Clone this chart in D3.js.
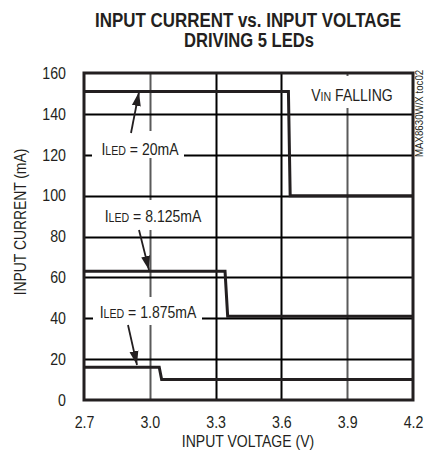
<!DOCTYPE html>
<html>
<head>
<meta charset="utf-8">
<script src="https://cdn.jsdelivr.net/npm/d3@7"></script>
<style>
  body { margin: 0; background: #fff; }
  text { font-family: "Liberation Sans", Arial, sans-serif; fill: #231f20; }
</style>
</head>
<body>
<div id="chart"></div>
<script>
// step curves (V, mA)
var led20 = [[2.7, 151], [3.632, 151], [3.64, 100], [4.2, 100]];
var led8 = [[2.7, 63], [3.343, 63], [3.355, 41], [4.2, 41]];
var led1 = [[2.7, 16], [3.043, 16], [3.054, 10], [4.2, 10]];
var xTicks = [2.7, 3.0, 3.3, 3.6, 3.9, 4.2];
var yTicks = [0, 20, 40, 60, 80, 100, 120, 140, 160];

var W = 424, H = 459,
    margin = {top: 73, right: 11, bottom: 59, left: 84},
    width = W - margin.left - margin.right,
    height = H - margin.top - margin.bottom;

var ink = "#231f20";

// squeeze text horizontally, the source uses a condensed face
function narrow(sel, k) {
  sel.each(function() {
    var len = this.getComputedTextLength();
    d3.select(this).attr("textLength", len * k).attr("lengthAdjust", "spacingAndGlyphs");
  });
}

var svg = d3.select("#chart").append("svg")
    .attr("width", W)
    .attr("height", H);

var x = d3.scaleLinear().domain([2.7, 4.2]).range([margin.left, margin.left + width]);
var y = d3.scaleLinear().domain([0, 160]).range([margin.top + height, margin.top]);

// title
svg.append("text")
    .attr("x", 248).attr("y", 27)
    .attr("text-anchor", "middle")
    .style("font-size", "20px").style("font-weight", "bold")
    .attr("textLength", 306).attr("lengthAdjust", "spacingAndGlyphs")
    .text("INPUT CURRENT vs. INPUT VOLTAGE");
svg.append("text")
    .attr("x", 249).attr("y", 47)
    .attr("text-anchor", "middle")
    .style("font-size", "20px").style("font-weight", "bold")
    .attr("textLength", 130).attr("lengthAdjust", "spacingAndGlyphs")
    .text("DRIVING 5 LEDs");

// grid, snapped to whole pixels
var greyV = [3.0, 3.9];
var vDark = d3.path(), vGrey = d3.path(), hPath = d3.path();
xTicks.slice(1, -1).forEach(function(d) {
  var p = greyV.indexOf(d) >= 0 ? vGrey : vDark;
  var px = Math.round(x(d)) + 0.5;
  p.moveTo(px, y(160)); p.lineTo(px, y(0));
});
yTicks.slice(1, -1).forEach(function(d) {
  var py = Math.round(y(d)) + 0.5;
  hPath.moveTo(x(2.7), py); hPath.lineTo(x(4.2), py);
});
svg.append("path").attr("d", vGrey.toString()).attr("fill", "none").attr("stroke", "#5a5a5a").attr("stroke-width", 2);
svg.append("path").attr("d", vDark.toString()).attr("fill", "none").attr("stroke", "#000").attr("stroke-width", 2);
svg.append("path").attr("d", hPath.toString()).attr("fill", "none").attr("stroke", "#000").attr("stroke-width", 2);

// tick labels
var xAxis = svg.append("g")
    .attr("transform", "translate(0," + y(0) + ")")
    .call(d3.axisBottom(x).tickValues(xTicks).tickFormat(d3.format(".1f")).tickSize(0).tickPadding(16));
var yAxis = svg.append("g")
    .attr("transform", "translate(" + x(2.7) + ",0)")
    .call(d3.axisLeft(y).tickValues(yTicks).tickSize(0).tickPadding(18));
[xAxis, yAxis].forEach(function(a) {
  a.select(".domain").remove();
  a.selectAll("text")
      .style("font-family", "'Liberation Sans', Arial, sans-serif")
      .style("font-size", "16.5px")
      .attr("fill", ink)
      .call(narrow, 0.86);
});

// labels on white boxes that break the grid
var labels = [
  {rest: " = 20mA", x: 140, y: 155, box: [92, 131, 92, 27]},
  {rest: " = 8.125mA", x: 153, y: 222, box: [99, 200, 108, 30]},
  {rest: " = 1.875mA", x: 148, y: 318, box: [93, 297, 109, 28]}
];
labels.forEach(function(l) {
  svg.append("rect")
      .attr("x", l.box[0]).attr("y", l.box[1])
      .attr("width", l.box[2]).attr("height", l.box[3])
      .attr("fill", "#fff");
  var t = svg.append("text")
      .attr("x", l.x).attr("y", l.y)
      .attr("text-anchor", "middle")
      .style("font-size", "16.5px");
  t.append("tspan").text("I");
  t.append("tspan").style("font-size", "12.5px").text("LED");
  t.append("tspan").text(l.rest);
  narrow(t, 0.85);
});
svg.append("rect").attr("x", 306).attr("y", 76).attr("width", 96).attr("height", 32).attr("fill", "#fff");
var vin = svg.append("text").attr("x", 352).attr("y", 101).attr("text-anchor", "middle").style("font-size", "16.5px");
vin.append("tspan").text("V");
vin.append("tspan").style("font-size", "12.5px").text("IN");
vin.append("tspan").text(" FALLING");
narrow(vin, 0.85);

// curves
var line = d3.line().x(function(d) { return x(d[0]); }).y(function(d) { return y(d[1]); });
svg.append("g").selectAll("path")
    .data([led20, led8, led1])
    .join("path")
      .attr("fill", "none")
      .attr("stroke", ink)
      .attr("stroke-width", 3)
      .attr("d", line);

// arrows
svg.append("defs").append("marker")
    .attr("id", "ah")
    .attr("viewBox", "0 0 14 10")
    .attr("refX", 14).attr("refY", 5)
    .attr("markerWidth", 14).attr("markerHeight", 10)
    .attr("markerUnits", "userSpaceOnUse")
    .attr("orient", "auto")
  .append("path").attr("d", "M0,0.5 L14,5 L0,9.5 Z").attr("fill", ink);
var arrows = [[[131, 133], [139, 92]], [[139, 230], [149, 270]], [[128, 325], [137, 365]]];
arrows.forEach(function(a) {
  svg.append("path")
      .attr("d", "M" + a[0][0] + "," + a[0][1] + "L" + a[1][0] + "," + a[1][1])
      .attr("fill", "none")
      .attr("stroke", ink).attr("stroke-width", 1.8)
      .attr("marker-end", "url(#ah)");
});

// frame
svg.append("rect")
    .attr("x", x(2.7)).attr("y", y(160))
    .attr("width", width).attr("height", height)
    .attr("fill", "none")
    .attr("stroke", ink)
    .attr("stroke-width", 3);

// axis titles
svg.append("text")
    .attr("x", 248).attr("y", 447)
    .attr("text-anchor", "middle")
    .style("font-size", "16.5px")
    .text("INPUT VOLTAGE (V)")
    .call(narrow, 0.85);
svg.append("text")
    .attr("transform", "translate(26,222) rotate(-90)")
    .attr("text-anchor", "middle")
    .style("font-size", "16.5px")
    .text("INPUT CURRENT (mA)")
    .call(narrow, 0.84);

svg.append("text")
    .attr("transform", "translate(423,157) rotate(-90)")
    .style("font-size", "11px")
    .text("MAX8630W/X toc02")
    .call(narrow, 0.88);
</script>
</body>
</html>
